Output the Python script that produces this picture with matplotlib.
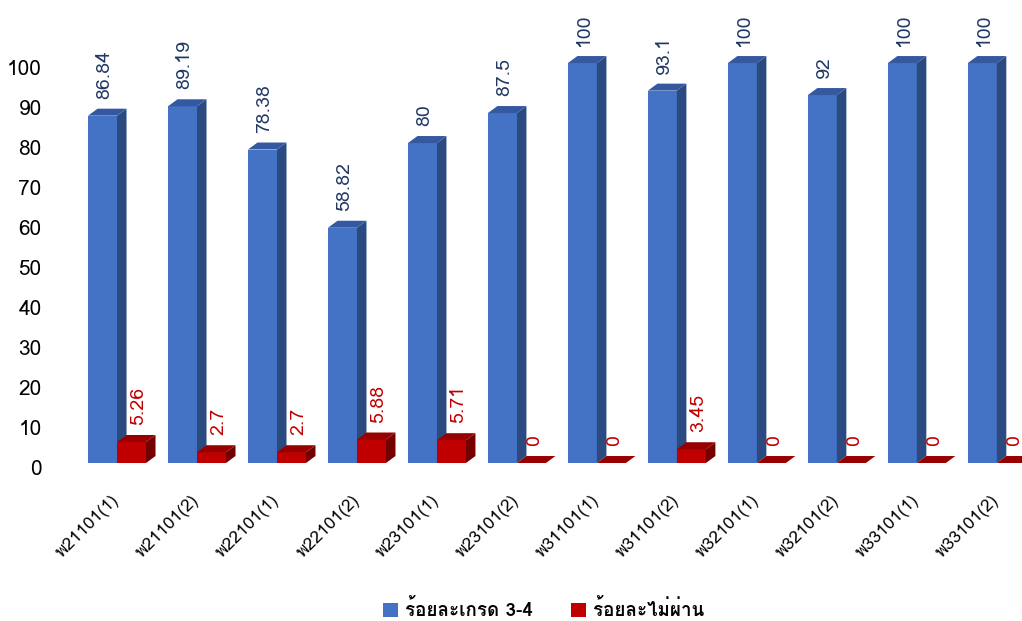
import matplotlib
matplotlib.use("Agg")
import matplotlib.pyplot as plt
import matplotlib.transforms as mtransforms
from matplotlib import font_manager, ft2font
from matplotlib.patches import Polygon, Patch

# data
categories = ['พ21101(1)', 'พ21101(2)', 'พ22101(1)', 'พ22101(2)', 'พ23101(1)', 'พ23101(2)',
              'พ31101(1)', 'พ31101(2)', 'พ32101(1)', 'พ32101(2)', 'พ33101(1)', 'พ33101(2)']
grade_34 = [86.84, 89.19, 78.38, 58.82, 80, 87.5, 100, 93.1, 100, 92, 100, 100]
fail = [5.26, 2.7, 2.7, 5.88, 5.71, 0, 0, 3.45, 0, 0, 0, 0]
series_names = ['ร้อยละเกรด 3-4', 'ร้อยละไม่ผ่าน']


def find_thai_font():
    # pick any installed family that has Thai glyphs
    for f in font_manager.fontManager.ttflist:
        try:
            cmap = ft2font.FT2Font(f.fname).get_charmap()
        except Exception:
            continue
        if 0x0E1E in cmap and 0x0E49 in cmap:
            return f.name
    return None


thai = find_thai_font()
plt.rcParams['font.family'] = ([thai] if thai else []) + ['DejaVu Sans']

front = ['#4472C4', '#C00000']
side = ['#2B4A80', '#760000']
top = ['#3459A0', '#980000']
label_col = ['#203864', '#C00000']

w = 0.3625     # bar width in group units
dx = 0.119     # depth, x
dy = 1.75      # depth, y

fig = plt.figure(figsize=(10.22, 6.21), dpi=100)
ax = fig.add_axes([0.0558, 0.2544, 0.944, 0.7407])
ax.set_xlim(-0.75, 11.3125)
ax.set_ylim(0, 115)

for s, vals in enumerate([grade_34, fail]):
    for i, v in enumerate(vals):
        x0 = i - w + s * w
        x1 = x0 + w
        ax.bar(x0, v, width=w, align='edge', color=front[s], linewidth=0, zorder=2 + s)
        ax.add_patch(Polygon([(x1, 0), (x1 + dx, dy), (x1 + dx, v + dy), (x1, v)],
                             closed=True, facecolor=side[s], linewidth=0, zorder=2 + s))
        ax.add_patch(Polygon([(x0, v), (x1, v), (x1 + dx, v + dy), (x0 + dx, v + dy)],
                             closed=True, facecolor=top[s], linewidth=0, zorder=2 + s))
        # red labels of non-zero bars sit a little right of the face centre
        if s == 0:
            shift = 0.02
        else:
            shift = 0.085 if v > 0 else 0.035
        ax.text((x0 + x1) / 2 + shift, v + 4.2, f'{v:g}', rotation=90, ha='center',
                va='bottom', fontsize=14, color=label_col[s], zorder=5)

ax.set_yticks(range(0, 101, 10))
ax.set_xticks(range(len(categories)))
ax.set_xticklabels(categories, rotation=45, ha='right', va='center',
                   rotation_mode='anchor', fontsize=12.5)
ax.tick_params(axis='x', length=0, pad=25)
ax.tick_params(axis='y', length=0, pad=11, labelsize=15)
offset = mtransforms.ScaledTranslation(0, -4 / 100, fig.dpi_scale_trans)
for lbl in ax.get_yticklabels():
    lbl.set_transform(lbl.get_transform() + offset)
for sp in ax.spines.values():
    sp.set_visible(False)

handles = [Patch(facecolor=front[0]), Patch(facecolor=front[1])]
fig.legend(handles, series_names, loc='center', bbox_to_anchor=(0.532, 0.018), ncol=2,
           frameon=False, handlelength=0.8, handleheight=0.8, handletextpad=0.4,
           columnspacing=2.0, prop={'size': 13.5, 'weight': 'bold'})

fig.savefig('out.png', dpi=100)
